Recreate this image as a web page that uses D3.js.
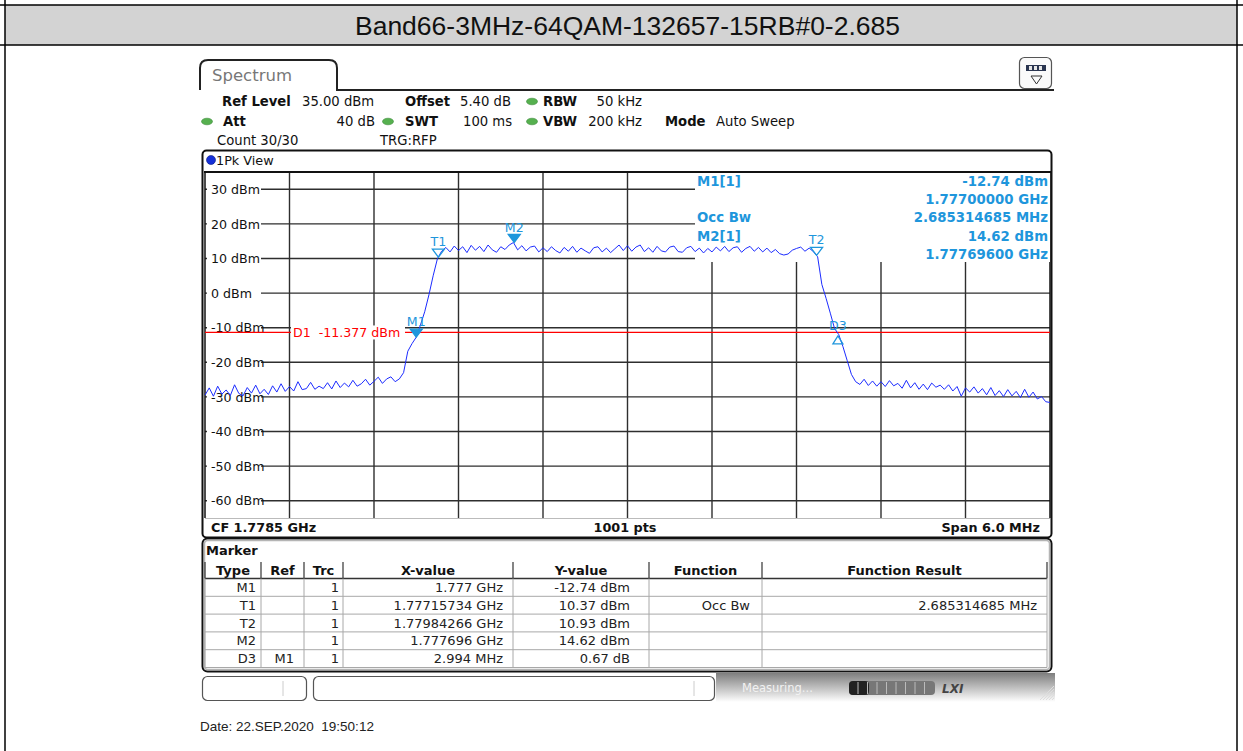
<!DOCTYPE html>
<html>
<head>
<meta charset="utf-8">
<script src="https://cdn.jsdelivr.net/npm/d3@7"></script>
<style>
body { margin: 0; background: #fff; }
svg { display: block; }
text { font-family: "DejaVu Sans", Verdana, sans-serif; }
</style>
</head>
<body>
<div id="chart"></div>
<script>
// sweep settings (MHz / dBm)
var startFreq = 1775.5, stopFreq = 1781.5;
var refLevel = 35, bottomLevel = -65;
var yTickValues = [30, 20, 10, 0, -10, -20, -30, -40, -50, -60];
var displayLine = -11.377;

// trace 1 (201 points across the span)
var traceLevels = [
  -29.5, -27.4, -29.8, -26.9, -29.2, -28.0, -29.6, -26.5, -29.0, -29.7,
  -27.3, -28.9, -26.6, -29.1, -27.8, -29.3, -26.8, -28.6, -26.2, -28.4,
  -27.0, -28.3, -25.6, -27.9, -27.6, -25.8, -27.8, -26.9, -27.6, -25.9,
  -27.7, -25.4, -27.3, -26.0, -27.1, -25.2, -26.9, -26.2, -24.9, -26.6,
  -25.5, -24.3, -26.1, -24.8, -24.2, -25.6, -24.8, -23.0, -16.8, -14.6,
  -12.74, -9.2, -5.4, -0.5, 5.0, 9.9, 12.1, 13.2, 11.9, 13.6,
  12.3, 13.4, 11.7, 13.8, 12.4, 13.5, 12.0, 13.9, 12.5, 11.8,
  13.4, 12.6, 13.9, 14.62, 12.5, 13.7, 12.2, 13.3, 13.6, 11.9,
  13.1, 12.0, 13.4, 12.3, 11.6, 13.2, 12.1, 13.5, 11.8, 13.0,
  12.2, 11.5, 13.1, 13.4, 11.9, 13.0, 11.7, 12.8, 13.9, 12.3,
  13.7, 12.1, 13.3, 13.9, 12.0, 13.1, 11.8, 13.5, 12.2, 11.9,
  13.3, 13.6, 12.0, 11.8, 13.1, 13.5, 12.0, 13.0, 11.6, 12.9,
  11.9, 13.3, 12.2, 13.5, 12.0, 13.1, 13.4, 11.8, 12.9, 13.5,
  12.1, 13.2, 11.9, 13.0, 11.7, 12.6, 11.4, 11.0, 11.3, 12.4,
  12.9, 13.3, 12.1, 13.0, 12.0, 10.5, 2.5, -1.5, -5.8, -10.2,
  -12.0, -15.5, -19.5, -23.5, -25.6, -26.4, -24.9, -26.7, -25.4, -26.9,
  -25.6, -27.0, -25.3, -26.8, -26.1, -27.5, -25.2, -27.4, -25.9, -27.8,
  -26.3, -27.9, -26.0, -27.2, -26.6, -27.8, -26.5, -28.3, -27.0, -29.8,
  -27.4, -28.6, -27.1, -28.9, -27.6, -29.4, -27.3, -29.6, -28.2, -29.9,
  -27.9, -29.7, -28.4, -30.2, -27.8, -30.1, -28.6, -30.6, -29.9, -31.4,
  -31.6
];

// markers on the trace
var markerNames = ["M1", "T1", "T2", "M2", "D3"];
var markerFreqs = [1777.0, 1777.15734, 1779.84266, 1777.696, 1779.994];
var markerLevels = [-12.74, 10.37, 10.93, 14.62, -12.07];
var markerKinds = ["filled", "open", "open", "filled", "delta"];

// marker readout in the diagram
var readLeft = ["M1[1]", "", "Occ Bw", "M2[1]", ""];
var readRight = ["-12.74 dBm", "1.77700000 GHz", "2.685314685 MHz", "14.62 dBm", "1.77769600 GHz"];

// marker table
var tableHeader = ["Type", "Ref", "Trc", "X-value", "Y-value", "Function", "Function Result"];
var tableType = ["M1", "T1", "T2", "M2", "D3"];
var tableRef = ["", "", "", "", "M1"];
var tableTrc = ["1", "1", "1", "1", "1"];
var tableX = ["1.777 GHz", "1.77715734 GHz", "1.77984266 GHz", "1.777696 GHz", "2.994 MHz"];
var tableY = ["-12.74 dBm", "10.37 dBm", "10.93 dBm", "14.62 dBm", "0.67 dB"];
var tableFunc = ["", "Occ Bw", "", "", ""];
var tableResult = ["", "2.685314685 MHz", "", "", ""];

var markerColor = "#1e96dc";
var traceColor = "#1c2cff";

var svg = d3.select("#chart").append("svg").attr("width", 1243).attr("height", 751);

// page frame and title band
svg.append("rect").attr("x", 5).attr("y", 5).attr("width", 1232).attr("height", 40).attr("fill", "#d3d3d3");
svg.append("line").attr("x1", 0).attr("x2", 1243).attr("y1", 5).attr("y2", 5).attr("stroke", "#000").attr("stroke-width", 1.5);
svg.append("line").attr("x1", 0).attr("x2", 1243).attr("y1", 45).attr("y2", 45).attr("stroke", "#000").attr("stroke-width", 1.5);
svg.append("line").attr("x1", 5).attr("x2", 5).attr("y1", 0).attr("y2", 751).attr("stroke", "#000").attr("stroke-width", 1.5);
svg.append("line").attr("x1", 1237).attr("x2", 1237).attr("y1", 0).attr("y2", 751).attr("stroke", "#000").attr("stroke-width", 1.5);
svg.append("text").attr("x", 627.5).attr("y", 35).attr("text-anchor", "middle")
  .style("font-family", "'Liberation Sans', Arial, sans-serif").style("font-size", "26.5px").attr("fill", "#111")
  .text("Band66-3MHz-64QAM-132657-15RB#0-2.685");

// Spectrum tab
svg.append("path").attr("d", "M200,90 V68 Q200,60 208,60 H329 Q337,60 337,68 V90 H1054")
  .attr("fill", "none").attr("stroke", "#222").attr("stroke-width", 2);
svg.append("text").attr("x", 212).attr("y", 81).style("font-size", "16.5px").attr("fill", "#777").text("Spectrum");

// icon top right
svg.append("rect").attr("x", 1019.5).attr("y", 57.5).attr("width", 32).attr("height", 31).attr("rx", 5)
  .attr("fill", "#fafafa").attr("stroke", "#555").attr("stroke-width", 1.2);
svg.append("rect").attr("x", 1026).attr("y", 65).attr("width", 20).attr("height", 6).attr("fill", "#2a3550");
[1029, 1034, 1039].forEach(function(xx) {
  svg.append("rect").attr("x", xx).attr("y", 66).attr("width", 3).attr("height", 4).attr("fill", "#e6e6e6");
});
svg.append("path").attr("d", "M1031,76 L1042,76 L1036.5,84 Z").attr("fill", "none").attr("stroke", "#333").attr("stroke-width", 1);

// setting header
function dot(cx, cy) {
  svg.append("ellipse").attr("cx", cx).attr("cy", cy).attr("rx", 5.5).attr("ry", 3.3)
    .attr("fill", "#56b04f").attr("stroke", "#3c8c3a").attr("stroke-width", 0.6);
}
function label(x, y, s, bold, anchor) {
  svg.append("text").attr("x", x).attr("y", y).attr("text-anchor", anchor || "start")
    .style("font-size", "13.2px").style("font-weight", bold ? "bold" : "normal").attr("fill", "#111").text(s);
}
label(222, 106, "Ref Level", true); label(302, 106, "35.00 dBm");
label(405, 106, "Offset", true); label(460, 106, "5.40 dB");
dot(532, 101.5); label(543, 106, "RBW", true); label(642, 106, "50 kHz", false, "end");
dot(207, 121.5); label(223, 126, "Att", true); label(375, 126, "40 dB", false, "end");
dot(388, 121.5); label(405, 126, "SWT", true); label(463, 126, "100 ms");
dot(532, 121.5); label(543, 126, "VBW", true); label(642, 126, "200 kHz", false, "end");
label(665, 126, "Mode", true); label(716, 126, "Auto Sweep");
label(217, 144.5, "Count 30/30"); label(380, 144.5, "TRG:RFP");

// diagram frame
svg.append("rect").attr("x", 202.5).attr("y", 150.5).attr("width", 849).attr("height", 387).attr("rx", 4)
  .attr("fill", "#fff").attr("stroke", "#111").attr("stroke-width", 2);
svg.append("circle").attr("cx", 211).attr("cy", 160).attr("r", 4.5).attr("fill", "#1530d8").attr("stroke", "#0b1a80").attr("stroke-width", 0.6);
svg.append("text").attr("x", 216).attr("y", 164.5).style("font-size", "12.8px").attr("fill", "#111").text("1Pk View");

// scales
var x = d3.scaleLinear().domain([startFreq, stopFreq]).range([205, 1050]);
var y = d3.scaleLinear().domain([bottomLevel, refLevel]).range([518, 172]);
var gridFreqs = d3.range(11).map(function(k) { return startFreq + k * (stopFreq - startFreq) / 10; });

var grid = svg.append("g");
grid.selectAll(".vg").data(gridFreqs.slice(1, 10)).enter().append("line")
  .attr("x1", function(d) { return x(d); }).attr("x2", function(d) { return x(d); })
  .attr("y1", 172).attr("y2", 518).attr("stroke", "#2e2e2e").attr("stroke-width", 1.4);
grid.selectAll(".hg").data(yTickValues).enter().append("line")
  .attr("x1", 205).attr("x2", 1050)
  .attr("y1", function(d) { return y(d); }).attr("y2", function(d) { return y(d); })
  .attr("stroke", "#2e2e2e").attr("stroke-width", 1.4);
// grid border
svg.append("line").attr("x1", 204).attr("x2", 1051).attr("y1", 172).attr("y2", 172).attr("stroke", "#111").attr("stroke-width", 2);
svg.append("line").attr("x1", 205).attr("x2", 205).attr("y1", 172).attr("y2", 518).attr("stroke", "#111").attr("stroke-width", 1.5);
svg.append("line").attr("x1", 1050).attr("x2", 1050).attr("y1", 172).attr("y2", 518).attr("stroke", "#111").attr("stroke-width", 1.5);
svg.append("line").attr("x1", 205).attr("x2", 1050).attr("y1", 518.5).attr("y2", 518.5).attr("stroke", "#bbb").attr("stroke-width", 1);

// level labels
var yl = svg.append("g").selectAll("g").data(yTickValues).enter().append("g");
yl.append("rect").attr("x", 207).attr("y", function(d) { return y(d) - 7; }).attr("width", 54).attr("height", 14).attr("fill", "#fff");
yl.append("text").attr("x", 211).attr("y", function(d) { return y(d) + 4.6; })
  .style("font-size", "12.6px").attr("fill", "#111").text(function(d) { return d + " dBm"; });

// marker readout box
svg.append("rect").attr("x", 695).attr("y", 173).attr("width", 355).attr("height", 89).attr("fill", "#fff");
var rd = svg.append("g").selectAll("g").data(readRight).enter().append("g");
rd.append("text").attr("x", 697).attr("y", function(d, i) { return 185.5 + i * 18.4; })
  .style("font-size", "13.3px").style("font-weight", "bold").attr("fill", markerColor)
  .text(function(d, i) { return readLeft[i]; });
rd.append("text").attr("x", 1048).attr("y", function(d, i) { return 185.5 + i * 18.4; }).attr("text-anchor", "end")
  .style("font-size", "13.3px").style("font-weight", "bold").attr("fill", markerColor)
  .text(function(d) { return d; });

// display line D1
svg.append("line").attr("x1", 205).attr("x2", 1050).attr("y1", y(displayLine)).attr("y2", y(displayLine))
  .attr("stroke", "#ff0000").attr("stroke-width", 1.2);
svg.append("rect").attr("x", 291).attr("y", y(displayLine) - 7).attr("width", 114).attr("height", 14).attr("fill", "#fff");
svg.append("text").attr("x", 293).attr("y", y(displayLine) + 4.6).style("font-size", "12.6px").attr("fill", "#ff0000")
  .attr("xml:space", "preserve").text("D1  -11.377 dBm");

// trace
var step = (stopFreq - startFreq) / (traceLevels.length - 1);
var line = d3.line()
  .x(function(d, i) { return x(startFreq + i * step); })
  .y(function(d) { return y(d); });
svg.append("path").datum(traceLevels).attr("d", line).attr("fill", "none")
  .attr("stroke", traceColor).attr("stroke-width", 1).attr("stroke-linejoin", "round");

// marker symbols
var mk = svg.append("g").selectAll("g").data(markerNames).enter().append("g")
  .attr("transform", function(d, i) { return "translate(" + x(markerFreqs[i]) + "," + y(markerLevels[i]) + ")"; });
mk.append("path")
  .attr("d", function(d, i) {
    return markerKinds[i] == "delta" ? "M0,1 L5,9 L-5,9 Z" : "M-6,-8 L6,-8 L0,0 Z";
  })
  .attr("fill", function(d, i) { return markerKinds[i] == "filled" ? markerColor : "none"; })
  .attr("stroke", markerColor).attr("stroke-width", 1.3);
mk.append("text").attr("text-anchor", "middle")
  .attr("y", function(d, i) { return markerKinds[i] == "delta" ? -5 : -11; })
  .style("font-size", "12.6px").attr("fill", markerColor).text(function(d) { return d; });

// diagram footer
svg.append("text").attr("x", 211).attr("y", 531.5).style("font-size", "12.8px").style("font-weight", "bold").attr("fill", "#111").text("CF 1.7785 GHz");
svg.append("text").attr("x", 625).attr("y", 531.5).attr("text-anchor", "middle").style("font-size", "12.8px").style("font-weight", "bold").attr("fill", "#111").text("1001 pts");
svg.append("text").attr("x", 1040).attr("y", 531.5).attr("text-anchor", "end").style("font-size", "12.8px").style("font-weight", "bold").attr("fill", "#111").text("Span 6.0 MHz");

// marker table
svg.append("rect").attr("x", 202.5).attr("y", 538.5).attr("width", 849).attr("height", 133).attr("rx", 5)
  .attr("fill", "#fff").attr("stroke", "#111").attr("stroke-width", 2);
svg.append("rect").attr("x", 204.5).attr("y", 540.5).attr("width", 845).attr("height", 129).attr("rx", 3)
  .attr("fill", "none").attr("stroke", "#b5b5b5").attr("stroke-width", 1.5);
svg.append("text").attr("x", 206).attr("y", 555).style("font-size", "13px").style("font-weight", "bold").attr("fill", "#111").text("Marker");

var colEdges = [205, 261, 304, 343, 513, 649, 762, 1047];
var colPad = [5, 10, 4, 10, 19, 12, 10];
var headTop = 562, bodyTop = 578.5, rowH = 17.8;
var columns = [tableType, tableRef, tableTrc, tableX, tableY, tableFunc, tableResult];

var tb = svg.append("g");
tb.selectAll(".hs").data(colEdges).enter().append("line")
  .attr("x1", function(d) { return d; }).attr("x2", function(d) { return d; })
  .attr("y1", headTop).attr("y2", bodyTop).attr("stroke", "#333").attr("stroke-width", 1.2);
tb.selectAll(".ht").data(tableHeader).enter().append("text")
  .attr("x", function(d, i) { return (colEdges[i] + colEdges[i + 1]) / 2; }).attr("y", 574.5)
  .attr("text-anchor", "middle").style("font-size", "13px").style("font-weight", "bold").attr("fill", "#111")
  .text(function(d) { return d; });
tb.append("line").attr("x1", 205).attr("x2", 1047).attr("y1", bodyTop).attr("y2", bodyTop).attr("stroke", "#333").attr("stroke-width", 1.5);
tb.selectAll(".rl").data(d3.range(1, tableType.length + 1)).enter().append("line")
  .attr("x1", 205).attr("x2", 1047)
  .attr("y1", function(d) { return bodyTop + d * rowH; }).attr("y2", function(d) { return bodyTop + d * rowH; })
  .attr("stroke", "#a8a8a8").attr("stroke-width", 1);
tb.selectAll(".cl").data(colEdges).enter().append("line")
  .attr("x1", function(d) { return d; }).attr("x2", function(d) { return d; })
  .attr("y1", bodyTop).attr("y2", bodyTop + tableType.length * rowH).attr("stroke", "#a8a8a8").attr("stroke-width", 1);
columns.forEach(function(col, c) {
  tb.selectAll(".c" + c).data(col).enter().append("text")
    .attr("x", colEdges[c + 1] - colPad[c])
    .attr("y", function(d, i) { return bodyTop + i * rowH + rowH / 2 + 4.6; })
    .attr("text-anchor", "end").style("font-size", "13px").attr("fill", "#222")
    .text(function(d) { return d; });
});

// status bar
var defs = svg.append("defs");
var grad = defs.append("linearGradient").attr("id", "stat").attr("x1", 0).attr("y1", 0).attr("x2", 0).attr("y2", 1);
grad.append("stop").attr("offset", "0%").attr("stop-color", "#7e7e7e");
grad.append("stop").attr("offset", "100%").attr("stop-color", "#ffffff");
svg.append("rect").attr("x", 716).attr("y", 673).attr("width", 339).attr("height", 29).attr("fill", "url(#stat)");
svg.append("rect").attr("x", 202.5).attr("y", 676.5).attr("width", 104).attr("height", 24).attr("rx", 5)
  .attr("fill", "#fff").attr("stroke", "#555").attr("stroke-width", 1.2);
svg.append("line").attr("x1", 283).attr("x2", 283).attr("y1", 681).attr("y2", 696).attr("stroke", "#ccc");
svg.append("rect").attr("x", 313.5).attr("y", 676.5).attr("width", 401).attr("height", 24).attr("rx", 5)
  .attr("fill", "#fff").attr("stroke", "#555").attr("stroke-width", 1.2);
svg.append("line").attr("x1", 694).attr("x2", 694).attr("y1", 681).attr("y2", 696).attr("stroke", "#ccc");
svg.append("text").attr("x", 742).attr("y", 692).style("font-size", "11.5px").attr("fill", "#f2f2f2").text("Measuring...");
svg.append("rect").attr("x", 849).attr("y", 681).attr("width", 86).attr("height", 14).attr("rx", 4).attr("fill", "#777");
svg.append("rect").attr("x", 849).attr("y", 681).attr("width", 20).attr("height", 14).attr("rx", 4).attr("fill", "#222");
d3.range(8).forEach(function(k) {
  svg.append("line").attr("x1", 858 + k * 9.5).attr("x2", 858 + k * 9.5).attr("y1", 682).attr("y2", 694).attr("stroke", "#bbb").attr("stroke-width", 1);
});
svg.append("text").attr("x", 942).attr("y", 693).style("font-size", "12px").style("font-weight", "bold").style("font-style", "italic")
  .attr("fill", "#444").text("LXI");
d3.range(5).forEach(function(k) {
  svg.append("line").attr("x1", 1040 + k * 3).attr("x2", 1054).attr("y1", 700).attr("y2", 700 - (14 - k * 3)).attr("stroke", "#ddd");
});

// date stamp
svg.append("text").attr("x", 200).attr("y", 731).style("font-family", "'Liberation Sans', Arial, sans-serif")
  .style("font-size", "13.5px").attr("fill", "#222").attr("xml:space", "preserve").text("Date: 22.SEP.2020  19:50:12");
</script>
</body>
</html>
